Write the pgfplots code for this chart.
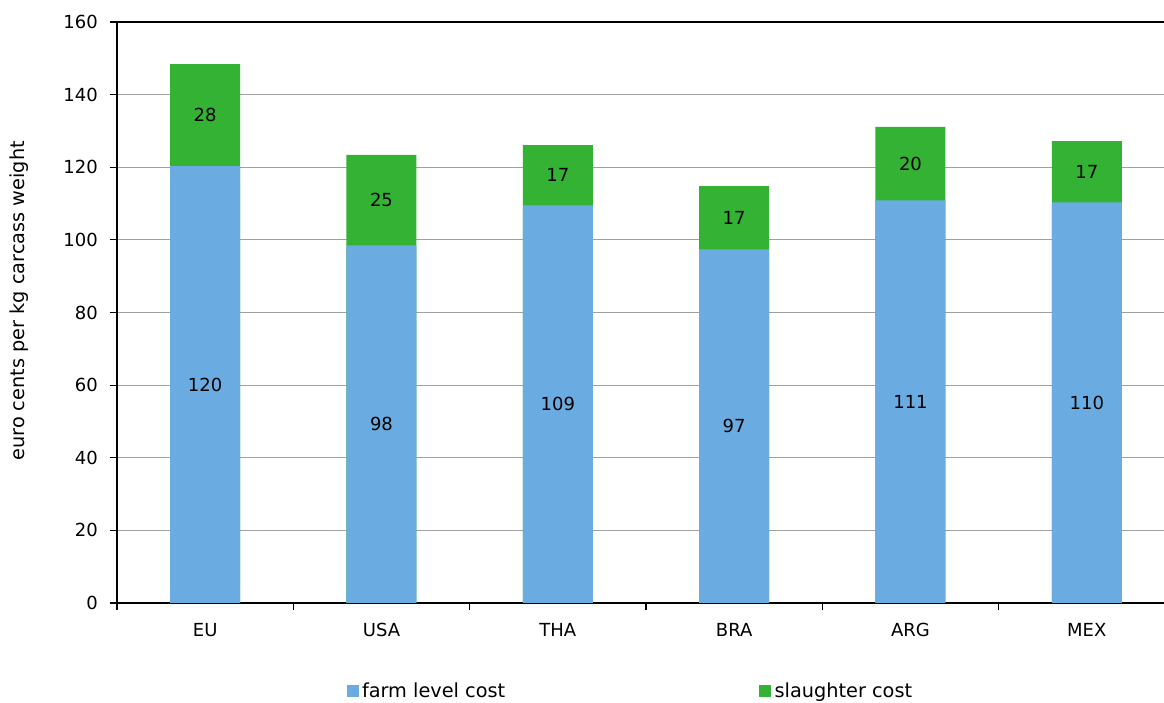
\documentclass[border=0pt]{standalone}
\usepackage{fontspec}
\setmainfont{DejaVu Sans}
\usepackage{pgfplots}
\usepackage{pgfplotstable}
\pgfplotsset{compat=1.18}
\newcommand\fs{\fontsize{18}{22}\selectfont}
\newcommand\fl{\fontsize{19.3}{23}\selectfont}
\definecolor{cblue}{RGB}{106,172,226}
\definecolor{cgreen}{RGB}{51,178,51}
\definecolor{cgrid}{RGB}{160,160,160}
\pgfplotstableread{
x farm slaughter farmlab slaughterlab
0 120.3 28.1 120 28
1 98.5 24.9 98 25
2 109.5 16.6 109 17
3 97.4 17.4 97 17
4 110.9 20.2 111 20
5 110.3 16.9 110 17
}\datatable
\begin{document}
\fs
\begin{tikzpicture}
\begin{axis}[
  scale only axis,
  width=1058pt, height=581pt,
  xmin=-0.5, xmax=5.5, ymin=0, ymax=160,
  ytick={0,20,...,160},
  xtick={-0.5,0.5,...,5.5},
  xticklabels={},
  extra x ticks={0,1,2,3,4,5},
  extra x tick labels={EU,USA,THA,BRA,ARG,MEX},
  extra x tick style={major tick length=0pt, grid=none},
  tick pos=left,
  tick align=outside,
  major tick length=7pt,
  tick style={black, line width=1.1pt},
  axis line style={black, line width=1.2pt},
  ymajorgrids,
  major grid style={draw=cgrid, line width=1pt},
  /pgf/number format/assume math mode=true,
  tick label style={font=\fs},
  yticklabel style={xshift=-6pt},
  xticklabel style={yshift=-14pt},
  ylabel={euro cents per kg carcass weight},
  ylabel style={font=\fl, at={(axis description cs:-0.0926,0.52)}, anchor=center},
  legend columns=2,
  legend cell align=left,
  legend style={draw=none, fill=none, font=\fl, at={(0.214,-0.1525)}, anchor=west,
    /tikz/every even column/.append style={column sep=252pt}},
]
\addlegendimage{legend image code/.code={\fill[cblue] (0pt,-5pt) rectangle (11pt,6pt);}}
\addlegendentry{\hspace{2pt}farm level cost}
\addlegendimage{legend image code/.code={\fill[cgreen] (0pt,-5pt) rectangle (11pt,6pt);}}
\addlegendentry{\hspace{2pt}slaughter cost}
% total bar (farm + slaughter), green
\addplot[ybar, bar width=70pt, bar shift=0pt, fill=cgreen, draw=none, forget plot]
  table[x=x, y expr=\thisrow{farm}+\thisrow{slaughter}] {\datatable};
% farm level bar, blue
\addplot[ybar, bar width=70pt, bar shift=0pt, fill=cblue, draw=none, forget plot]
  table[x=x, y=farm] {\datatable};
% labels
\addplot[draw=none, mark=none, forget plot, nodes near coords, point meta=explicit symbolic,
  every node near coord/.append style={font=\fs, black, anchor=center}]
  table[x=x, y expr=\thisrow{farm}/2, meta=farmlab] {\datatable};
\addplot[draw=none, mark=none, forget plot, nodes near coords, point meta=explicit symbolic,
  every node near coord/.append style={font=\fs, black, anchor=center}]
  table[x=x, y expr=\thisrow{farm}+\thisrow{slaughter}/2, meta=slaughterlab] {\datatable};
\end{axis}
\pgfresetboundingbox
\useasboundingbox (-117pt,-100pt) rectangle (1047pt,603pt);
\end{tikzpicture}
\end{document}
